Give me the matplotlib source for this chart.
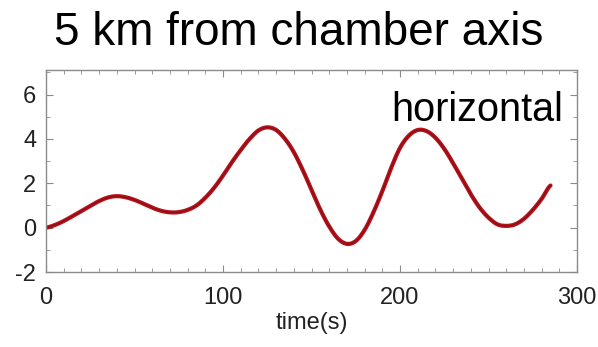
import numpy as np
import matplotlib
matplotlib.use("Agg")
import matplotlib.pyplot as plt
from matplotlib.ticker import MultipleLocator

# Horizontal displacement time series at 5 km from the chamber axis
time_s = [0, 5, 10, 15, 20, 25, 30, 35, 40, 45, 50, 55, 60, 65, 70, 75, 80, 85,
          90, 95, 100, 105, 110, 115, 120, 125, 130, 135, 140, 145, 150, 155,
          160, 165, 170, 175, 180, 185, 190, 195, 200, 205, 210, 215, 220, 225,
          230, 235, 240, 245, 250, 255, 260, 265, 270, 275, 280, 285]
horizontal = [0.0, 0.12, 0.3, 0.52, 0.75, 0.98, 1.2, 1.36, 1.42, 1.37, 1.25,
              1.08, 0.9, 0.76, 0.69, 0.7, 0.8, 1.0, 1.35, 1.8, 2.35, 2.95, 3.5,
              4.0, 4.38, 4.52, 4.4, 4.0, 3.4, 2.6, 1.7, 0.8, 0.05, -0.5, -0.73,
              -0.6, -0.1, 0.7, 1.65, 2.7, 3.6, 4.15, 4.4, 4.35, 4.05, 3.55, 2.9,
              2.2, 1.5, 0.9, 0.45, 0.15, 0.08, 0.15, 0.4, 0.8, 1.3, 1.9]

x_ticks = [0, 100, 200, 300]
y_ticks = [-2, 0, 2, 4, 6]

plt.rcParams['font.family'] = ['Liberation Sans', 'DejaVu Sans']
plt.rcParams['axes.unicode_minus'] = False

fig = plt.figure(figsize=(5.98, 3.47), dpi=100)
ax = fig.add_axes([0.077, 0.216, 0.888, 0.582])

# smooth rendering of the sampled series
t = np.asarray(time_s, float)
v = np.asarray(horizontal, float)
tt = np.linspace(t[0], t[-1], 600)
# Catmull-Rom style cubic through the samples
idx = np.clip(np.searchsorted(t, tt) - 1, 0, len(t) - 2)
p0 = v[np.clip(idx - 1, 0, len(v) - 1)]
p1 = v[idx]
p2 = v[idx + 1]
p3 = v[np.clip(idx + 2, 0, len(v) - 1)]
s = (tt - t[idx]) / (t[idx + 1] - t[idx])
vv = 0.5 * ((2 * p1) + (-p0 + p2) * s + (2 * p0 - 5 * p1 + 4 * p2 - p3) * s**2
            + (-p0 + 3 * p1 - 3 * p2 + p3) * s**3)

ax.plot(tt, vv, color='#b5121b', lw=3.0, solid_capstyle='round')
ax.plot(tt, vv, color='#6e0a10', lw=1.0, alpha=0.5)

ax.set_xlim(0, 300)
ax.set_ylim(-2, 7.1)
ax.set_xticks(x_ticks)
ax.set_yticks(y_ticks)
ax.xaxis.set_minor_locator(MultipleLocator(10))
ax.yaxis.set_minor_locator(MultipleLocator(1))
ax.tick_params(which='both', direction='in', top=True, right=True,
               colors='#8a8a8a', labelcolor='#222222')
ax.tick_params(which='major', length=5, width=0.8, labelsize=17)
ax.tick_params(which='minor', length=3, width=0.6)
ax.tick_params(axis='x', pad=11)
ax.tick_params(axis='y', pad=7)
for sp in ax.spines.values():
    sp.set_color('#8a8a8a')
    sp.set_linewidth(1.0)

ax.set_xlabel('time(s)', fontsize=17, color='#222222', labelpad=2)
ax.text(0.974, 0.75, 'horizontal', transform=ax.transAxes, ha='right',
        va='baseline', fontsize=28.5, color='black')
fig.text(0.5, 0.870, '5 km from chamber axis', ha='center', va='baseline',
         fontsize=33, color='black')

fig.savefig('out.png', dpi=100)
